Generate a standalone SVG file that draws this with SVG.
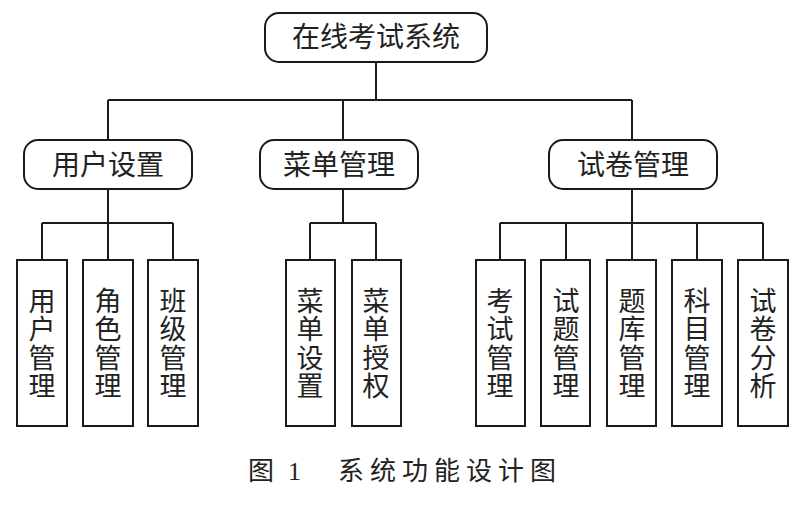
<svg xmlns="http://www.w3.org/2000/svg" width="800" height="508" viewBox="0 0 800 508">
<style>
.box{fill:#fff;stroke:#1a1a1a;stroke-width:2}
.ln{fill:none;stroke:#1a1a1a;stroke-width:2}
.t{font-family:"Noto Sans CJK SC","Noto Sans",sans-serif;font-size:28px;fill:#222;text-anchor:middle}
.v{font-family:"Noto Sans CJK SC","Noto Sans",sans-serif;font-size:27px;fill:#222;text-anchor:middle;writing-mode:vertical-rl;letter-spacing:1.5px}
.cap{font-family:"Liberation Serif","Noto Sans CJK SC",serif;font-size:26px;fill:#222}
</style>
<rect width="800" height="508" fill="#fff"/>
<g id="connectors" class="ln">
<path d="M376 62V100M108 100H632M108 100V140M343 100V140M632 100V140"/>
<path d="M108 189V223M42 223H173M42 223V260M108 223V260M173 223V260"/>
<path d="M343 189V223M310 223H376M310 223V260M376 223V260"/>
<path d="M632 189V223M500 223H763M500 223V260M566 223V260M632 223V260M697 223V260M763 223V260"/>
</g>
<g id="root"><rect class="box" x="265" y="13" width="222" height="49" rx="14"/><text class="t" x="376" y="47">在线考试系统</text></g>
<g id="yhsz"><rect class="box" x="24" y="140" width="168" height="49" rx="14"/><text class="t" x="108" y="175">用户设置</text></g>
<g id="cdgl"><rect class="box" x="260" y="140" width="158" height="49" rx="14"/><text class="t" x="339" y="175">菜单管理</text></g>
<g id="sjgl"><rect class="box" x="549" y="140" width="168" height="49" rx="14"/><text class="t" x="633" y="175">试卷管理</text></g>
<g id="n1"><rect class="box" x="17" y="260" width="50" height="166"/><text class="v" x="42" y="344">用户管理</text></g>
<g id="n2"><rect class="box" x="83" y="260" width="50" height="166"/><text class="v" x="108" y="344">角色管理</text></g>
<g id="n3"><rect class="box" x="148" y="260" width="50" height="166"/><text class="v" x="173" y="344">班级管理</text></g>
<g id="n4"><rect class="box" x="286" y="260" width="49" height="166"/><text class="v" x="310" y="344">菜单设置</text></g>
<g id="n5"><rect class="box" x="352" y="260" width="49" height="166"/><text class="v" x="376" y="344">菜单授权</text></g>
<g id="n6"><rect class="box" x="476" y="260" width="49" height="166"/><text class="v" x="500" y="344">考试管理</text></g>
<g id="n7"><rect class="box" x="541" y="260" width="49" height="166"/><text class="v" x="566" y="344">试题管理</text></g>
<g id="n8"><rect class="box" x="607" y="260" width="49" height="166"/><text class="v" x="632" y="344">题库管理</text></g>
<g id="n9"><rect class="box" x="672" y="260" width="50" height="166"/><text class="v" x="697" y="344">科目管理</text></g>
<g id="n10"><rect class="box" x="738" y="260" width="50" height="166"/><text class="v" x="763" y="344">试卷分析</text></g>
<g id="caption">
<text class="cap" x="248" y="480">图</text>
<text class="cap" x="288" y="480">1</text>
<text class="cap" x="338" y="480" letter-spacing="6">系统功能设计图</text>
</g>
</svg>
